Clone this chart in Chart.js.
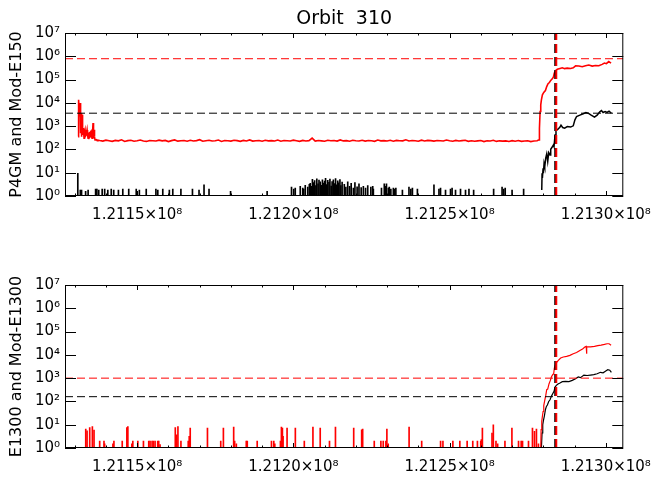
<!DOCTYPE html>
<html>
<head>
<meta charset="utf-8">
<title>Orbit 310</title>
<script src="https://cdn.jsdelivr.net/npm/chart.js@4.4.0/dist/chart.umd.min.js"></script>
<style>
  body { margin: 0; background: #fff; }
  canvas { display: block; }
</style>
</head>
<body>
<canvas id="chartTop" width="662" height="240"></canvas>
<canvas id="chartBottom" width="662" height="240"></canvas>
<script>
// time axis in units of 1000 s (121150 -> 1.2115x10^8)
const xMin = 121126.9;
const xMax = 121305.6;
const xTickValues = [121130, 121140, 121150, 121160, 121170, 121180, 121190, 121200, 121210,
  121220, 121230, 121240, 121250, 121260, 121270, 121280, 121290, 121300];
const xLabelValues = [121150, 121200, 121250, 121300];
const xLabels = ['1.2115×10⁸', '1.2120×10⁸', '1.2125×10⁸', '1.2130×10⁸'];
const yTickValues = [1, 10, 100, 1000, 1e4, 1e5, 1e6, 1e7];
const yLabels = ['10⁰', '10¹', '10²', '10³', '10⁴', '10⁵', '10⁶', '10⁷'];

const markerTime = 121283.9;
const topRedLevel = 785000;
const topBlackLevel = 3600;
const bottomRedLevel = 1000;
const bottomBlackLevel = 160;

// top panel: P4GM (red)
const topRedEarlyT = [121131.09, 121131.2, 121131.31, 121131.42, 121131.52, 121131.62, 121131.73, 121131.84, 121131.94, 121132.05,
  121132.16, 121132.26, 121132.37, 121132.47, 121132.58, 121132.79, 121133.0, 121133.16, 121133.32, 121133.48,
  121133.64, 121133.8, 121133.96, 121134.12, 121134.28, 121134.44, 121134.6, 121134.76, 121134.92, 121135.08,
  121135.23, 121135.39, 121135.55, 121135.71, 121135.87, 121135.98, 121136.08, 121136.2, 121136.3, 121136.4,
  121136.51, 121136.72, 121136.93, 121137.2, 121137.46];
const topRedEarlyV = [355, 600, 13500, 5000, 7000, 2600, 9800, 1500, 500, 3600,
  800, 355, 3100, 700, 420, 820, 300, 550, 690, 380,
  420, 520, 690, 400, 300, 480, 500, 330, 355, 560,
  600, 380, 300, 520, 1350, 600, 300, 450, 700, 350,
  257, 260, 265, 240, 250];

// quiet stretch, one sample per 1000 s from 121138
const topRedFlatStart = 121138;
const topRedFlatStep = 1;
const topRedFlatV = [
  240, 228, 251, 236, 222, 245, 233, 260, 219, 238,
  247, 226, 235, 254, 230, 221, 242, 237, 229, 250,
  233, 244, 218, 239, 256, 227, 236, 243, 224, 248,
  231, 239, 262, 225, 237, 246, 229, 234, 252, 221,
  240, 235, 227, 249, 238, 223, 244, 232, 257, 228,
  236, 241, 224, 247, 233, 239, 230, 253, 226, 242,
  235, 229, 250, 237, 222, 245, 231, 238, 305, 227,
  240, 234, 226, 248, 236, 243, 229, 255, 232, 238,
  225, 246, 237, 231, 249, 228, 241, 236, 223, 252,
  234, 239, 230, 247, 226, 244, 237, 233, 258, 229,
  240, 236, 224, 250, 232, 245, 238, 227, 241, 235,
  229, 253, 237, 226, 244, 231, 239, 248, 222, 236,
  224, 233, 241, 218, 236, 229, 246, 221, 234, 227,
  232, 219, 238, 226, 241, 223, 230, 236, 217, 229,
  234];

const topRedRiseT = [121278.65, 121278.76, 121278.97, 121279.18, 121279.39, 121279.71, 121280.14, 121280.67, 121281.09, 121281.52,
  121281.94, 121282.37, 121282.79, 121283.22, 121283.53, 121283.96, 121284.49, 121285.34, 121286.08, 121286.82,
  121287.67, 121288.74, 121289.58, 121290.33, 121291.39, 121292.45, 121293.51, 121294.57, 121295.64, 121296.7,
  121297.76, 121298.82, 121299.56, 121300.2, 121300.94, 121301.69];
const topRedRiseV = [257, 820, 4240, 8250, 13500, 22000, 28000, 34000, 50000, 66000,
  75000, 92000, 105000, 128000, 190000, 245000, 280000, 300000, 320000, 295000,
  310000, 300000, 320000, 390000, 380000, 355000, 390000, 420000, 380000, 400000,
  390000, 450000, 510000, 480000, 590000, 510000];

// top panel: Mod-E150 (black)
const topBlackT = [121279.5, 121279.6, 121279.71, 121279.93, 121280.03, 121280.24, 121280.46, 121280.77, 121281.09, 121281.41,
  121281.73, 121282.15, 121282.37, 121282.79, 121283.22, 121283.43, 121283.75, 121284.06, 121284.7, 121285.34,
  121285.66, 121286.19, 121286.82, 121287.67, 121288.74, 121289.58, 121290.12, 121290.65, 121291.71, 121292.77,
  121293.62, 121294.36, 121295.32, 121296.38, 121297.23, 121298.08, 121298.61, 121299.14, 121299.78, 121300.41,
  121301.05, 121301.79];
const topBlackV = [1.8, 9.5, 5.9, 15.5, 9.5, 25, 18, 42, 64, 30,
  73, 58, 102, 124, 156, 131, 420, 650, 740, 910,
  1100, 870, 820, 960, 910, 1030, 1860, 2600, 2960, 3390,
  3860, 3600, 2960, 2420, 2960, 4100, 4700, 3860, 4240, 3860,
  4400, 3600];

const topSpikeT = [121131.0, 121131.8, 121132.2, 121133.5, 121134.3, 121136.7, 121137.1, 121137.7, 121138.8, 121139.6,
  121140.6, 121141.7, 121142.5, 121144.0, 121145.4, 121147.3, 121149.7, 121150.7, 121152.9, 121156.0,
  121156.6, 121158.2, 121160.3, 121161.4, 121164.0, 121167.7, 121169.8, 121171.4, 121173.0, 121179.9,
  121191.6, 121199.4, 121200.1, 121200.6, 121202.2, 121203.0, 121203.3, 121203.8, 121204.6, 121205.1,
  121205.4, 121205.8, 121206.1, 121206.5, 121206.8, 121207.2, 121207.5, 121207.9, 121208.2, 121208.6,
  121208.9, 121209.3, 121209.6, 121210.0, 121210.3, 121210.7, 121211.0, 121211.4, 121211.7, 121212.1,
  121212.4, 121212.8, 121213.1, 121213.5, 121213.8, 121214.2, 121214.5, 121214.9, 121215.2, 121215.6,
  121216.3, 121216.8, 121217.4, 121218.0, 121218.5, 121219.2, 121219.7, 121220.4, 121221.0, 121221.7,
  121222.4, 121223.1, 121223.8, 121224.8, 121225.4, 121225.6, 121228.2, 121229.1, 121229.5, 121229.8,
  121230.4, 121230.7, 121231.2, 121232.0, 121232.3, 121232.8, 121234.9, 121237.0, 121237.6, 121238.1,
  121239.7, 121245.0, 121246.6, 121247.1, 121248.7, 121250.3, 121250.8, 121251.9, 121253.5, 121255.1,
  121256.2, 121257.7, 121264.1, 121266.8, 121267.3, 121267.8, 121270.0, 121273.7];
const topSpikeV = [9.5, 1.8, 1.8, 1.6, 1.8, 2, 2, 1.8, 2, 2,
  1.8, 2, 1.8, 1.8, 2, 2, 2, 1.8, 2, 2,
  1.8, 2, 1.8, 2, 2, 2, 1.8, 3, 2, 1.6,
  1.6, 2.4, 2, 2.2, 2.6, 2.2, 2, 2.9, 2.4, 3.2,
  3.5, 2.6, 5.2, 3.8, 4.6, 2.8, 5.5, 3.3, 4.8, 4.1,
  2.9, 5.0, 3.6, 4.4, 5.8, 3.1, 4.7, 3.9, 5.3, 2.7,
  4.2, 4.9, 3.4, 5.6, 3.0, 4.5, 3.7, 5.1, 2.8, 4.0,
  3.2, 2.4, 4.1, 2.6, 3.5, 2.2, 3.8, 2.5, 3.3, 2.3,
  2.6, 2.2, 2.8, 2.4, 2.6, 2.0, 2.2, 3.3, 2.6, 3.3,
  2.2, 2.4, 2.0, 2.2, 2.0, 2.2, 1.8, 2.4, 2.0, 2.2,
  2.0, 3.0, 2.0, 2.2, 1.8, 2.0, 2.2, 1.8, 2.0, 1.8,
  2.0, 1.8, 2.0, 2.4, 2.0, 2.2, 1.8, 2.0];

// bottom panel: E1300 (red)
const bottomRedT = [121130.8, 121279.18, 121279.29, 121279.5, 121279.71, 121279.93, 121280.14, 121280.46, 121280.77, 121281.09,
  121281.41, 121281.84, 121282.26, 121282.58, 121283.0, 121283.32, 121283.53, 121283.85, 121284.28, 121284.81,
  121285.55, 121286.4, 121287.46, 121288.52, 121289.58, 121290.65, 121291.71, 121292.56, 121293.4, 121293.73,
  121293.83, 121293.94, 121295.1, 121296.38, 121297.44, 121298.5, 121299.56, 121300.41, 121301.05, 121301.69];
const bottomRedV = [1, 1, 6.1, 14, 23, 37, 66, 110, 176, 320,
  340, 580, 800, 1120, 1400, 1550, 2700, 3800, 4750, 5800,
  7300, 8100, 8600, 9500, 11200, 12600, 15500, 18000, 22000, 23000,
  11200, 22000, 22000, 23000, 25000, 26000, 28000, 30000, 30000, 26000];

const bottomSpikeT = [121133.54, 121133.96, 121134.81, 121135.66, 121136.19, 121138.0, 121139.38, 121139.59, 121142.24, 121142.56,
  121145.22, 121146.7, 121147.02, 121148.3, 121148.61, 121150.21, 121152.01, 121153.71, 121154.13, 121154.77,
  121155.19, 121155.73, 121156.58, 121156.9, 121157.32, 121162.2, 121162.63, 121163.05, 121164.01, 121166.34,
  121166.66, 121166.98, 121172.5, 121176.75, 121177.6, 121180.89, 121181.2, 121181.74, 121184.92, 121185.24,
  121188.42, 121192.99, 121193.73, 121194.05, 121195.86, 121196.17, 121196.49, 121196.7, 121197.98, 121200.63,
  121203.5, 121206.26, 121208.59, 121211.56, 121213.47, 121219.31, 121221.86, 121222.18, 121225.89, 121228.01,
  121228.76, 121229.61, 121229.93, 121230.35, 121237.04, 121241.07, 121247.12, 121247.87, 121251.05, 121253.28,
  121255.62, 121257.42, 121258.91, 121259.97, 121260.18, 121260.5, 121263.58, 121264.0, 121264.85, 121265.38,
  121267.72, 121269.95, 121272.07, 121272.92, 121273.35, 121275.26, 121276.53, 121277.17, 121277.8, 121278.44];
const bottomSpikeV = [6.5, 5.4, 7.6, 8.3, 5.9, 2, 2, 1.5, 1.5, 2,
  2, 7.6, 8.3, 1.5, 2, 2, 2, 2, 2, 2,
  2, 2, 2, 2, 1.4, 7.6, 3.7, 8.3, 2, 2,
  3.2, 7.2, 7.2, 2, 7.2, 8, 2, 1.5, 2, 2,
  2, 2, 2, 1.5, 2, 8, 7.2, 3.2, 7.2, 7.2,
  2, 8, 7.2, 2, 8, 7.2, 6.1, 6.5, 2, 2,
  2, 2, 6.5, 1.5, 8, 2, 2, 2, 2, 2,
  2, 2, 2, 2, 2.3, 7.2, 4.4, 10, 2, 1.5,
  2, 7.2, 2, 2, 2, 2, 7.2, 5.2, 6.5, 1.5];

// bottom panel: Mod-E1300 (black)
const bottomBlackT = [121279.39, 121279.6, 121279.82, 121280.03, 121280.35, 121280.67, 121280.99, 121281.3, 121281.73, 121282.15,
  121282.58, 121283.0, 121283.43, 121283.75, 121284.17, 121284.7, 121285.34, 121286.08, 121287.14, 121288.2,
  121289.27, 121290.33, 121291.18, 121291.92, 121292.98, 121294.04, 121295.1, 121296.17, 121297.23, 121298.29,
  121299.14, 121299.99, 121300.63, 121301.27, 121301.79];
const bottomBlackV = [1, 4.4, 10, 15, 24, 44, 61, 70, 100, 118,
  165, 215, 270, 415, 490, 560, 620, 705, 720, 705,
  800, 950, 1120, 1050, 1360, 1300, 1360, 1420, 1550, 1780,
  1700, 2030, 2300, 2200, 1780];

Chart.defaults.font.family = "'DejaVu Sans', sans-serif";
Chart.defaults.color = '#000';
Chart.defaults.elements.point.radius = 0;

function pairs(ts, vs) {
  return ts.map((t, i) => ({ x: t, y: vs[i] }));
}

const topRedData = pairs(topRedEarlyT, topRedEarlyV)
  .concat(topRedFlatV.map((v, i) => ({ x: topRedFlatStart + i * topRedFlatStep, y: v })))
  .concat(pairs(topRedRiseT, topRedRiseV));

function hLine(level, color, order) {
  return { data: [{ x: xMin, y: level }, { x: xMax, y: level }], borderColor: color,
    borderWidth: 1, borderDash: [8, 4], order: order };
}
function vLine(t, color, width, order) {
  return { data: [{ x: t, y: 1 }, { x: t, y: 1e7 }], borderColor: color,
    borderWidth: width, borderDash: [9, 4], order: order };
}
function spikes(ts, vs, color) {
  return { type: 'bar', data: pairs(ts, vs), backgroundColor: color, borderWidth: 0,
    barThickness: 1, base: 1, grouped: false, order: 9 };
}

// box, inward ticks and title in the IDL manner
const idlFrame = {
  id: 'idlFrame',
  afterDraw(chart, args, opts) {
    const { ctx, chartArea: a, scales: { x, y } } = chart;
    ctx.save();
    ctx.strokeStyle = '#000';
    ctx.lineWidth = 1;
    ctx.strokeRect(a.left + 0.5, a.top + 0.5, a.right - a.left - 1, a.bottom - a.top - 1);
    ctx.beginPath();
    xTickValues.forEach(v => {
      const px = Math.round(x.getPixelForValue(v)) + 0.5;
      const len = xLabelValues.includes(v) ? 5 : 2.5;
      ctx.moveTo(px, a.bottom); ctx.lineTo(px, a.bottom - len);
      ctx.moveTo(px, a.top); ctx.lineTo(px, a.top + len);
    });
    yTickValues.forEach(v => {
      const py = Math.round(y.getPixelForValue(v)) + 0.5;
      ctx.moveTo(a.left, py); ctx.lineTo(a.left + 11, py);
      ctx.moveTo(a.right, py); ctx.lineTo(a.right - 11, py);
    });
    ctx.stroke();
    if (opts.title) {
      ctx.font = "19px 'DejaVu Sans', sans-serif";
      ctx.fillStyle = '#000';
      ctx.textAlign = 'center';
      ctx.textBaseline = 'middle';
      ctx.fillText(opts.title, (a.left + a.right) / 2, 19);
    }
    ctx.restore();
  }
};

function makeChart(id, datasets, yTitle, title, padTop, xHeight) {
  return new Chart(document.getElementById(id), {
    type: 'line',
    data: { datasets: datasets },
    options: {
      responsive: false,
      animation: false,
      events: [],
      layout: { padding: { left: 0, right: 36, top: padTop, bottom: 0 } },
      plugins: { legend: { display: false }, tooltip: { enabled: false }, idlFrame: { title: title } },
      scales: {
        x: {
          type: 'linear', min: xMin, max: xMax, offset: false,
          grid: { display: false, drawTicks: false }, border: { display: false },
          afterBuildTicks: s => { s.ticks = xTickValues.map(v => ({ value: v })); },
          afterFit: s => { s.height = xHeight; },
          ticks: {
            autoSkip: false, maxRotation: 0, padding: 10, font: { size: 15 },
            callback: v => { const i = xLabelValues.indexOf(v); return i >= 0 ? xLabels[i] : ''; }
          }
        },
        y: {
          type: 'logarithmic', min: 1, max: 1e7,
          grid: { display: false, drawTicks: false }, border: { display: false },
          afterBuildTicks: s => { s.ticks = yTickValues.map(v => ({ value: v })); },
          afterFit: s => { s.width = 65; },
          ticks: {
            autoSkip: false, padding: 5, font: { size: 15 },
            callback: v => yLabels[yTickValues.indexOf(v)]
          },
          title: { display: true, text: yTitle, font: { size: 16 }, padding: { top: 7, bottom: 0 } }
        }
      }
    },
    plugins: [idlFrame]
  });
}

makeChart('chartTop', [
  vLine(markerTime + 0.25, '#ff0000', 2, 0),
  vLine(markerTime, '#000000', 2.5, 1),
  hLine(topRedLevel, '#ff0000', 2),
  hLine(topBlackLevel, '#000000', 3),
  { data: topRedData, borderColor: '#ff0000', borderWidth: 1.6, order: 4 },
  { data: pairs(topBlackT, topBlackV), borderColor: '#000000', borderWidth: 1.5, order: 5 },
  spikes(topSpikeT, topSpikeV, '#000000')
], 'P4GM and Mod-E150', 'Orbit  310', 33, 44);

makeChart('chartBottom', [
  vLine(markerTime + 0.25, '#ff0000', 2, 0),
  vLine(markerTime, '#000000', 2.5, 1),
  hLine(bottomRedLevel, '#ff0000', 2),
  hLine(bottomBlackLevel, '#000000', 3),
  { data: pairs(bottomRedT, bottomRedV), borderColor: '#ff0000', borderWidth: 1.2, order: 4 },
  { data: pairs(bottomBlackT, bottomBlackV), borderColor: '#000000', borderWidth: 1.2, order: 5 },
  spikes(bottomSpikeT, bottomSpikeV, '#ff0000')
], 'E1300 and Mod-E1300', '', 45, 32);
</script>
</body>
</html>
